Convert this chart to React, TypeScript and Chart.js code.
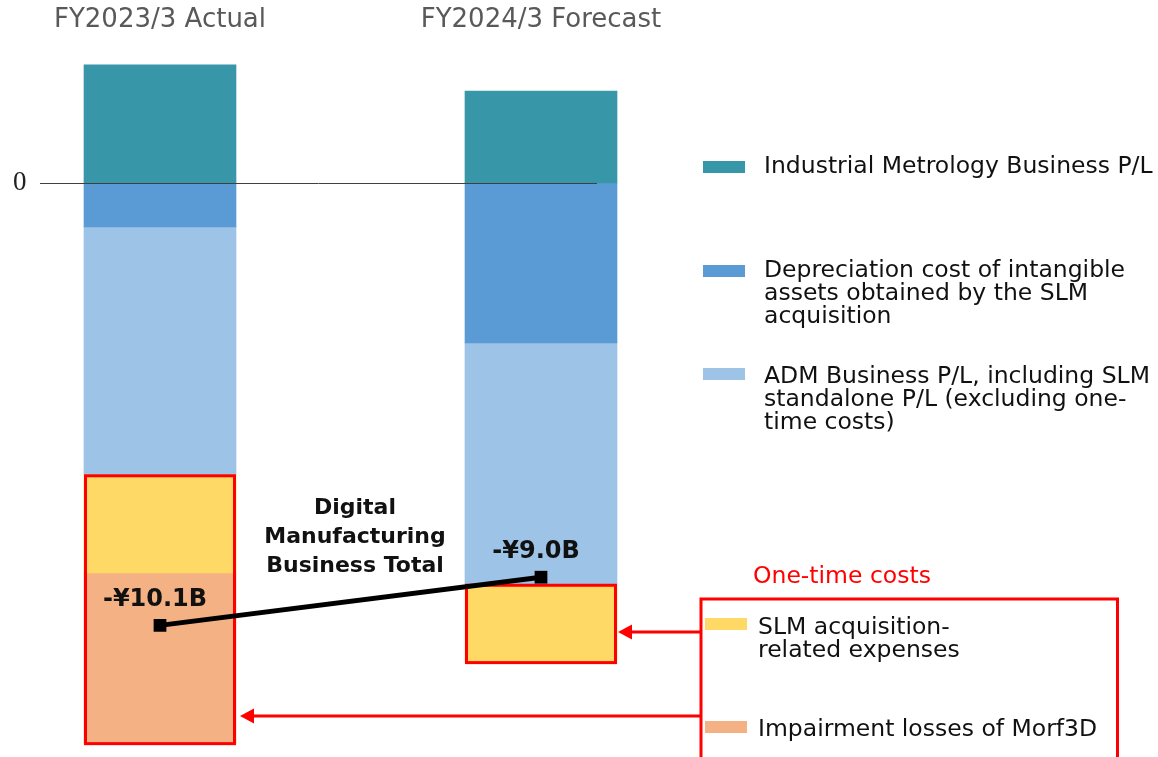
import React, { useEffect, useRef } from 'react';
import { Chart, registerables } from 'chart.js';

Chart.register(...registerables);

// ---- Data (¥ billions) ----
const categories = ['FY2023/3 Actual', 'FY2024/3 Forecast'];
const industrialMetrology = [2.7, 2.1];
const slmDepreciation = [-1.0, -3.65];
const admBusiness = [-5.65, -5.5];
const slmAcquisitionExpenses = [-2.25, -1.8];
const morf3dImpairment = [-3.9, null];
const dmTotal = [-10.1, -9.0];
const dmTotalLabels = ['-¥10.1B', '-¥9.0B'];
const yTickValues = [0];

const seriesNames = [
  'Industrial Metrology Business P/L',
  'Depreciation cost of intangible assets obtained by the SLM acquisition',
  'ADM Business P/L, including SLM standalone P/L (excluding one-time costs)',
  'SLM acquisition-related expenses',
  'Impairment losses of Morf3D',
];
const legendLines = [
  ['Industrial Metrology Business P/L'],
  ['Depreciation cost of intangible', 'assets obtained by the SLM', 'acquisition'],
  ['ADM Business P/L, including SLM', 'standalone P/L (excluding one-', 'time costs)'],
  ['SLM acquisition-', 'related expenses'],
  ['Impairment losses of Morf3D'],
];
const totalTitleLines = ['Digital', 'Manufacturing', 'Business Total'];
const oneTimeTitle = 'One-time costs';

const colors = ['#3896A9', '#5B9BD5', '#9DC3E6', '#FFD966', '#F4B183'];
const RED = '#FF0000';

export default function App() {
  const ref = useRef<HTMLCanvasElement>(null);

  useEffect(() => {
    const canvas = ref.current;
    if (!canvas) return;

    const drawRedBoxes = (chart: any) => {
      const ctx = chart.ctx;
      const yMeta = chart.getDatasetMeta(4);
      const oMeta = chart.getDatasetMeta(5);
      categories.forEach((_, i) => {
        const els: any[] = [];
        if (slmAcquisitionExpenses[i] != null) els.push(yMeta.data[i]);
        if (morf3dImpairment[i] != null) els.push(oMeta.data[i]);
        if (!els.length) return;
        let top = Infinity, bottom = -Infinity, left = 0, width = 0;
        els.forEach((el: any) => {
          const p = el.getProps(['x', 'y', 'base', 'width'], true);
          top = Math.min(top, p.y, p.base);
          bottom = Math.max(bottom, p.y, p.base);
          left = p.x - p.width / 2;
          width = p.width;
        });
        ctx.save();
        ctx.strokeStyle = RED;
        ctx.lineWidth = 3;
        ctx.strokeRect(left + 1.5, top + 1.5, width - 3, bottom - top - 1.5);
        ctx.restore();
      });
    };

    const arrow = (ctx: CanvasRenderingContext2D, x1: number, x2: number, y: number) => {
      ctx.save();
      ctx.strokeStyle = RED;
      ctx.fillStyle = RED;
      ctx.lineWidth = 3;
      ctx.beginPath();
      ctx.moveTo(x1, y);
      ctx.lineTo(x2 + 12, y);
      ctx.stroke();
      ctx.beginPath();
      ctx.moveTo(x2, y);
      ctx.lineTo(x2 + 14, y - 7.5);
      ctx.lineTo(x2 + 14, y + 7.5);
      ctx.closePath();
      ctx.fill();
      ctx.restore();
    };

    const overlay = {
      id: 'overlay',
      beforeDatasetDraw(chart: any, args: any) {
        if (args.meta.type === 'line') drawRedBoxes(chart);
      },
      afterDatasetsDraw(chart: any) {
        const ctx = chart.ctx;
        const y0 = chart.scales.y.getPixelForValue(0);
        ctx.save();
        ctx.strokeStyle = '#404040';
        ctx.lineWidth = 1;
        ctx.beginPath();
        ctx.moveTo(40, Math.round(y0) + 0.5);
        ctx.lineTo(597, Math.round(y0) + 0.5);
        ctx.stroke();

        // total labels
        const lMeta = chart.getDatasetMeta(0);
        ctx.fillStyle = '#111';
        ctx.font = 'bold 24px "DejaVu Sans"';
        ctx.textAlign = 'center';
        ctx.textBaseline = 'alphabetic';
        lMeta.data.forEach((pt: any, i: number) => {
          ctx.fillText(dmTotalLabels[i], pt.x - 5, pt.y - 19);
        });

        // total title
        ctx.font = 'bold 22px "DejaVu Sans"';
        totalTitleLines.forEach((t, k) => {
          ctx.fillText(t, 355, 514 + k * 29);
        });
        ctx.restore();
      },
      afterDraw(chart: any) {
        const ctx = chart.ctx;
        ctx.save();
        ctx.font = '23.5px "DejaVu Sans"';
        ctx.textAlign = 'left';
        ctx.textBaseline = 'alphabetic';
        const items = [
          { sx: 703, sy: 161, tx: 764, by: 173 },
          { sx: 703, sy: 265, tx: 764, by: 277 },
          { sx: 703, sy: 368, tx: 764, by: 383 },
          { sx: 705, sy: 618, tx: 758, by: 634 },
          { sx: 705, sy: 721, tx: 758, by: 736 },
        ];
        items.forEach((it, i) => {
          ctx.fillStyle = colors[i];
          ctx.fillRect(it.sx, it.sy, 42, 12);
          ctx.fillStyle = '#111';
          legendLines[i].forEach((line, k) => {
            ctx.fillText(line, it.tx, it.by + k * 23);
          });
        });
        // one-time costs header + box
        ctx.fillStyle = RED;
        ctx.fillText(oneTimeTitle, 753, 583);
        ctx.strokeStyle = RED;
        ctx.lineWidth = 3;
        ctx.strokeRect(701, 599, 416.5, 160);
        // arrows
        arrow(ctx, 701, 618, 632);
        arrow(ctx, 701, 240, 716);
        ctx.restore();
      },
    };

    const barBase = { barThickness: 152, borderWidth: 0, clip: false as any, stack: 'dm' };

    const chart = new Chart(canvas, {
      type: 'bar',
      data: {
        labels: categories,
        datasets: [
          {
            type: 'line',
            label: 'Digital Manufacturing Business Total',
            data: dmTotal,
            borderColor: '#000',
            backgroundColor: '#000',
            borderWidth: 5,
            pointStyle: 'rect',
            pointRadius: 9,
            pointBackgroundColor: '#000',
            pointBorderColor: '#000',
            pointBorderWidth: 0,
            order: -1,
            clip: false as any,
            stack: 'total',
          } as any,
          { ...barBase, label: seriesNames[0], data: industrialMetrology, backgroundColor: colors[0] },
          { ...barBase, label: seriesNames[1], data: slmDepreciation, backgroundColor: colors[1] },
          { ...barBase, label: seriesNames[2], data: admBusiness, backgroundColor: colors[2] },
          { ...barBase, label: seriesNames[3], data: slmAcquisitionExpenses, backgroundColor: colors[3] },
          { ...barBase, label: seriesNames[4], data: morf3dImpairment, backgroundColor: colors[4] },
        ],
      },
      options: {
        responsive: false,
        animation: false,
        devicePixelRatio: 1,
        layout: { autoPadding: false, padding: { left: 13, right: 617, top: 0, bottom: 4.6 } },
        plugins: { legend: { display: false }, tooltip: { enabled: false } },
        scales: {
          x: {
            type: 'category',
            position: 'top',
            offset: false,
            stacked: true,
            grid: { display: false, drawTicks: false },
            border: { display: false },
            ticks: {
              font: { family: 'DejaVu Sans', size: 26 },
              color: '#595959',
              padding: 16,
              maxRotation: 0,
              autoSkip: false,
            },
            afterFit(s: any) {
              s.height = 51.6;
              s.paddingLeft = 0;
              s.paddingRight = 0;
            },
          },
          y: {
            stacked: true,
            min: -13,
            max: 3,
            position: 'left',
            grid: { display: false, drawTicks: false },
            border: { display: false },
            afterBuildTicks(s: any) {
              s.ticks = yTickValues.map((v) => ({ value: v }));
            },
            ticks: {
              crossAlign: 'far',
              font: { family: 'Liberation Serif', size: 27 },
              color: '#222',
              padding: 0,
              callback: (v: any) => String(v),
            },
            afterFit(s: any) {
              s.width = 147;
              s.paddingTop = 0;
              s.paddingBottom = 0;
            },
          },
        },
      } as any,
      plugins: [overlay],
    });
    return () => chart.destroy();
  }, []);

  return (
    <div style={{ position: 'absolute', left: 0, top: 0, width: 1158, height: 757, background: '#fff' }}>
      <canvas ref={ref} width={1158} height={757} style={{ display: 'block' }} />
    </div>
  );
}
